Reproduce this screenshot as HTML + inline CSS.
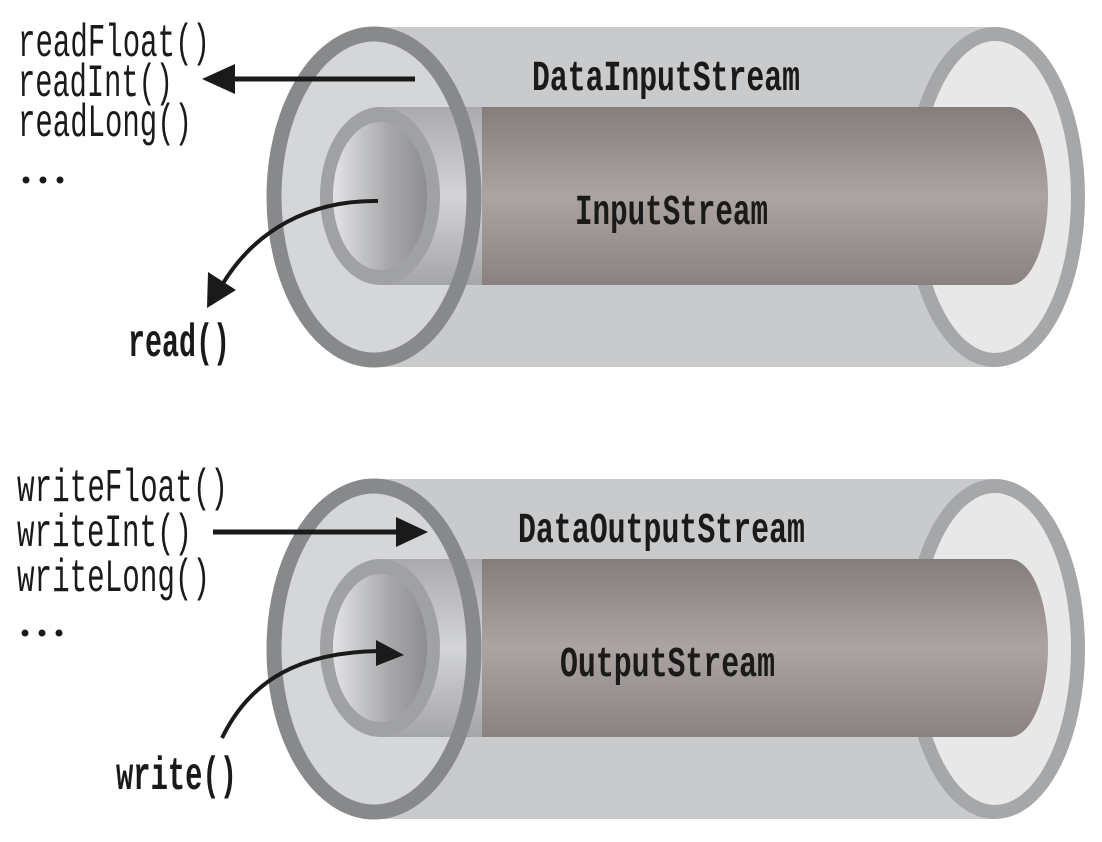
<!DOCTYPE html>
<html><head><meta charset="utf-8"><style>
html,body{margin:0;padding:0;background:#fff;}
svg{display:block;}
text{font-family:"Liberation Mono",monospace;fill:#1a1a1a;}
</style></head><body>
<svg width="1102" height="842" viewBox="0 0 1102 842" xmlns="http://www.w3.org/2000/svg">
<defs>
  <linearGradient id="brown" x1="0" y1="0" x2="0" y2="1">
    <stop offset="0" stop-color="#857d7a"/>
    <stop offset="0.5" stop-color="#aba4a1"/>
    <stop offset="1" stop-color="#8a8280"/>
  </linearGradient>
  <linearGradient id="grayband" x1="0" y1="0" x2="0" y2="1">
    <stop offset="0" stop-color="#a9aaac"/>
    <stop offset="0.5" stop-color="#d3d4d6"/>
    <stop offset="1" stop-color="#a4a5a7"/>
  </linearGradient>
  <linearGradient id="core" x1="0" y1="0" x2="1" y2="0">
    <stop offset="0" stop-color="#e2e3e5"/>
    <stop offset="0.6" stop-color="#a7a8aa"/>
    <stop offset="1" stop-color="#8c8d8f"/>
  </linearGradient>
  <g id="cyl">
    <rect x="374" y="27" width="621" height="340" fill="#c9cacc"/>
    <ellipse cx="995" cy="197" rx="83" ry="163" fill="#e8e8e9" stroke="#a6a7a9" stroke-width="14"/>
    <ellipse cx="374" cy="197" rx="100" ry="163" fill="#d5d6d8"/>
    <rect x="380" y="107" width="102" height="178" fill="url(#grayband)"/>
    <rect x="482" y="107" width="528" height="178" fill="url(#brown)"/>
    <ellipse cx="1010" cy="196" rx="38" ry="89" fill="url(#brown)"/>
    <ellipse cx="374" cy="197" rx="100" ry="163" fill="none" stroke="#88898b" stroke-width="15"/>
    <ellipse cx="380" cy="196" rx="60" ry="89" fill="#a0a1a3"/>
    <ellipse cx="380" cy="196" rx="47" ry="74" fill="url(#core)"/>
  </g>
</defs>

<use href="#cyl"/>
<use href="#cyl" transform="translate(0,452)"/>

<!-- top texts -->
<text x="18" y="56" font-size="46" textLength="192" lengthAdjust="spacingAndGlyphs">readFloat()</text>
<text x="18" y="96" font-size="46" textLength="155" lengthAdjust="spacingAndGlyphs">readInt()</text>
<text x="18" y="136" font-size="46" textLength="174" lengthAdjust="spacingAndGlyphs">readLong()</text>
<circle cx="26" cy="180" r="3.5" fill="#1a1a1a"/><circle cx="43" cy="180" r="3.5" fill="#1a1a1a"/><circle cx="60" cy="180" r="3.5" fill="#1a1a1a"/>
<text x="128" y="356" font-size="46" font-weight="bold" textLength="102" lengthAdjust="spacingAndGlyphs">read()</text>
<text x="532" y="90" font-size="43" font-weight="bold" textLength="268" lengthAdjust="spacingAndGlyphs">DataInputStream</text>
<text x="575" y="224" font-size="43" font-weight="bold" textLength="193" lengthAdjust="spacingAndGlyphs">InputStream</text>

<!-- top arrows -->
<line x1="415" y1="79" x2="228" y2="79" stroke="#1a1a1a" stroke-width="5"/>
<polygon points="202,79 235,64 235,94" fill="#1a1a1a"/>
<path d="M378,201 C310,200 255,230 222,285" fill="none" stroke="#1a1a1a" stroke-width="4"/>
<polygon points="207,308 208,272 236,290" fill="#1a1a1a"/>

<!-- bottom texts -->
<text x="17" y="501" font-size="46" textLength="211" lengthAdjust="spacingAndGlyphs">writeFloat()</text>
<text x="17" y="546" font-size="46" textLength="175" lengthAdjust="spacingAndGlyphs">writeInt()</text>
<text x="17" y="591" font-size="46" textLength="193" lengthAdjust="spacingAndGlyphs">writeLong()</text>
<circle cx="25" cy="633" r="3.5" fill="#1a1a1a"/><circle cx="42" cy="633" r="3.5" fill="#1a1a1a"/><circle cx="59" cy="633" r="3.5" fill="#1a1a1a"/>
<text x="116" y="789" font-size="46" font-weight="bold" textLength="121" lengthAdjust="spacingAndGlyphs">write()</text>
<text x="518" y="542" font-size="43" font-weight="bold" textLength="287" lengthAdjust="spacingAndGlyphs">DataOutputStream</text>
<text x="560" y="676" font-size="43" font-weight="bold" textLength="215" lengthAdjust="spacingAndGlyphs">OutputStream</text>

<!-- bottom arrows -->
<line x1="213" y1="532" x2="400" y2="532" stroke="#1a1a1a" stroke-width="5"/>
<polygon points="428,532 396,517 396,547" fill="#1a1a1a"/>
<path d="M222,738 C250,680 300,652 380,651" fill="none" stroke="#1a1a1a" stroke-width="4"/>
<polygon points="404,655 376,640 376,666" fill="#1a1a1a"/>
</svg>
</body></html>
